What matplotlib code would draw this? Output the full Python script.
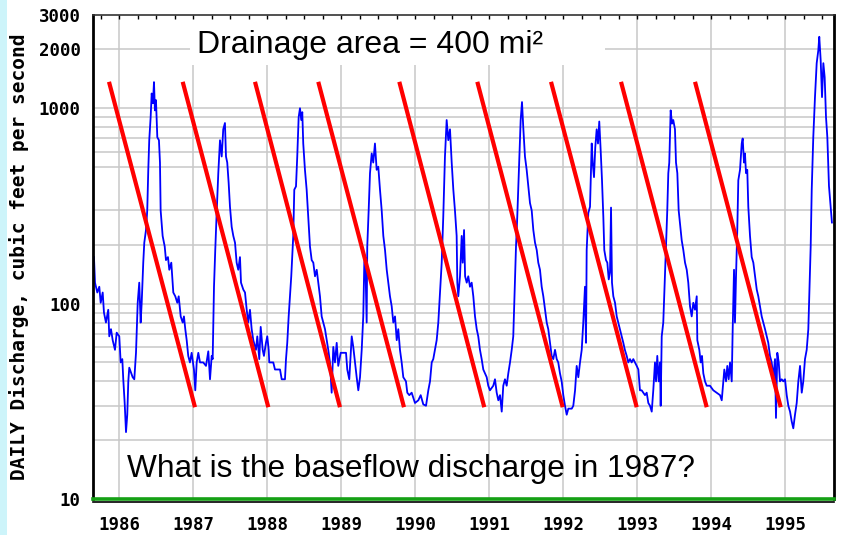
import matplotlib
matplotlib.use("Agg")
import matplotlib.pyplot as plt
from matplotlib.patches import Rectangle
from matplotlib.ticker import FixedLocator, MultipleLocator, NullFormatter
import matplotlib.transforms as mtrans

# ---------------- data ----------------
date_yr = [
    1985.658, 1985.672, 1985.703, 1985.730, 1985.749, 1985.776, 1985.793, 1985.820, 1985.851, 1985.865,
    1985.888, 1985.911, 1985.942, 1985.965, 1986.000, 1986.019, 1986.041, 1986.054, 1986.073, 1986.091,
    1986.108, 1986.122, 1986.135, 1986.162, 1986.181, 1986.203, 1986.226, 1986.249, 1986.270, 1986.289,
    1986.303, 1986.324, 1986.338, 1986.361, 1986.378, 1986.392, 1986.405, 1986.424, 1986.438, 1986.455,
    1986.469, 1986.482, 1986.496, 1986.514, 1986.536, 1986.550, 1986.559, 1986.586, 1986.614, 1986.631,
    1986.658, 1986.676, 1986.703, 1986.730, 1986.757, 1986.784, 1986.803, 1986.830, 1986.857, 1986.874,
    1986.892, 1986.911, 1986.932, 1986.955, 1986.978, 1987.009, 1987.027, 1987.046, 1987.068, 1987.091,
    1987.135, 1987.172, 1987.203, 1987.226, 1987.249, 1987.262, 1987.280, 1987.297, 1987.316, 1987.338,
    1987.361, 1987.384, 1987.405, 1987.428, 1987.442, 1987.459, 1987.478, 1987.496, 1987.519, 1987.541,
    1987.564, 1987.586, 1987.608, 1987.631, 1987.645, 1987.676, 1987.699, 1987.722, 1987.743, 1987.766,
    1987.789, 1987.811, 1987.847, 1987.865, 1987.892, 1987.911, 1987.938, 1987.955, 1987.982, 1988.000,
    1988.019, 1988.027, 1988.081, 1988.104, 1988.172, 1988.195, 1988.239, 1988.253, 1988.270, 1988.289,
    1988.307, 1988.324, 1988.351, 1988.365, 1988.388, 1988.405, 1988.424, 1988.442, 1988.459, 1988.473,
    1988.486, 1988.509, 1988.532, 1988.554, 1988.577, 1988.600, 1988.622, 1988.645, 1988.668, 1988.689,
    1988.712, 1988.735, 1988.757, 1988.780, 1988.803, 1988.824, 1988.847, 1988.870, 1988.892, 1988.915,
    1988.938, 1988.959, 1988.992, 1989.027, 1989.064, 1989.081, 1989.108, 1989.141, 1989.162, 1989.185,
    1989.208, 1989.230, 1989.253, 1989.276, 1989.297, 1989.311, 1989.324, 1989.343, 1989.351, 1989.370,
    1989.388, 1989.411, 1989.432, 1989.455, 1989.478, 1989.500, 1989.523, 1989.546, 1989.568, 1989.591,
    1989.614, 1989.635, 1989.658, 1989.681, 1989.703, 1989.726, 1989.749, 1989.770, 1989.793, 1989.816,
    1989.838, 1989.874, 1989.892, 1989.919, 1989.951, 1989.996, 1990.041, 1990.073, 1990.108, 1990.145,
    1990.176, 1990.199, 1990.222, 1990.243, 1990.266, 1990.289, 1990.311, 1990.334, 1990.357, 1990.378,
    1990.401, 1990.424, 1990.446, 1990.469, 1990.492, 1990.514, 1990.536, 1990.559, 1990.568, 1990.581,
    1990.604, 1990.627, 1990.641, 1990.659, 1990.673, 1990.695, 1990.716, 1990.739, 1990.762, 1990.784,
    1990.807, 1990.830, 1990.851, 1990.874, 1990.897, 1990.919, 1990.942, 1990.965, 1990.986, 1991.009,
    1991.054, 1991.077, 1991.100, 1991.122, 1991.145, 1991.168, 1991.189, 1991.212, 1991.235, 1991.257,
    1991.280, 1991.303, 1991.324, 1991.347, 1991.361, 1991.378, 1991.392, 1991.405, 1991.424, 1991.442,
    1991.459, 1991.482, 1991.505, 1991.527, 1991.550, 1991.573, 1991.595, 1991.618, 1991.641, 1991.662,
    1991.685, 1991.708, 1991.730, 1991.753, 1991.776, 1991.797, 1991.820, 1991.843, 1991.865, 1991.888,
    1991.911, 1991.932, 1991.955, 1991.978, 1992.000, 1992.023, 1992.046, 1992.068, 1992.114, 1992.135,
    1992.159, 1992.181, 1992.203, 1992.226, 1992.249, 1992.270, 1992.293, 1992.307, 1992.316, 1992.338,
    1992.361, 1992.384, 1992.397, 1992.415, 1992.432, 1992.451, 1992.469, 1992.486, 1992.505, 1992.523,
    1992.541, 1992.554, 1992.577, 1992.595, 1992.614, 1992.631, 1992.645, 1992.658, 1992.676, 1992.699,
    1992.722, 1992.743, 1992.766, 1992.789, 1992.811, 1992.832, 1992.857, 1992.878, 1992.901, 1992.924,
    1992.946, 1992.969, 1992.992, 1993.014, 1993.036, 1993.059, 1993.081, 1993.104, 1993.127, 1993.149,
    1993.172, 1993.195, 1993.216, 1993.239, 1993.253, 1993.270, 1993.289, 1993.307, 1993.316, 1993.330,
    1993.351, 1993.370, 1993.389, 1993.405, 1993.419, 1993.432, 1993.451, 1993.469, 1993.486, 1993.509,
    1993.523, 1993.541, 1993.559, 1993.577, 1993.600, 1993.622, 1993.645, 1993.668, 1993.689, 1993.712,
    1993.735, 1993.757, 1993.780, 1993.803, 1993.811, 1993.838, 1993.857, 1993.874, 1993.892, 1993.915,
    1993.938, 1993.982, 1994.027, 1994.073, 1994.118, 1994.141, 1994.162, 1994.176, 1994.199, 1994.216,
    1994.235, 1994.253, 1994.276, 1994.289, 1994.307, 1994.320, 1994.334, 1994.351, 1994.365, 1994.388,
    1994.411, 1994.424, 1994.442, 1994.455, 1994.469, 1994.486, 1994.500, 1994.523, 1994.546, 1994.568,
    1994.591, 1994.614, 1994.635, 1994.658, 1994.681, 1994.703, 1994.726, 1994.749, 1994.770, 1994.793,
    1994.816, 1994.838, 1994.861, 1994.874, 1994.892, 1994.911, 1994.928, 1994.951, 1994.973, 1994.996,
    1995.019, 1995.041, 1995.064, 1995.086, 1995.108, 1995.131, 1995.154, 1995.176, 1995.199, 1995.222,
    1995.243, 1995.266, 1995.289, 1995.311, 1995.324, 1995.343, 1995.357, 1995.378, 1995.401, 1995.424,
    1995.446, 1995.459, 1995.478, 1995.496, 1995.514, 1995.532, 1995.550, 1995.568, 1995.590, 1995.630,
]
flow_cfs = [
    173, 128, 114, 122, 101, 114, 90, 80, 93, 68,
    74, 65, 58, 71, 68, 50, 52, 41, 31, 22,
    27, 40, 47, 44, 42, 41, 56, 101, 128, 80,
    101, 162, 205, 238, 300, 484, 686, 900, 1190, 1060,
    1360, 975, 1100, 710, 686, 527, 300, 222, 196, 167,
    173, 149, 162, 114, 109, 101, 109, 86, 80, 86,
    74, 65, 54, 50, 56, 46, 36, 50, 56, 50,
    50, 48, 57, 41, 54, 52, 122, 188, 291, 465,
    686, 566, 780, 840, 566, 527, 415, 313, 247, 222,
    205, 162, 149, 173, 128, 118, 114, 93, 80, 93,
    74, 65, 58, 68, 52, 76, 58, 54, 63, 68,
    58, 50, 50, 46, 46, 41, 41, 52, 63, 86,
    109, 138, 222, 383, 398, 566, 900, 1000, 870, 955,
    660, 484, 383, 278, 196, 167, 162, 138, 149, 128,
    109, 86, 80, 74, 65, 58, 50, 35, 60, 50,
    63, 48, 56, 56, 56, 46, 41, 68, 60, 50,
    42, 36, 42, 58, 86, 162, 173, 80, 196, 300,
    465, 587, 527, 660, 484, 502, 383, 300, 222, 188,
    149, 128, 109, 97, 80, 86, 65, 74, 58, 50,
    42, 40, 35, 34, 35, 31, 32, 34, 30.5, 30,
    36, 40, 50, 52, 58, 65, 80, 114, 162, 278,
    566, 870, 686, 780, 527, 383, 300, 222, 128, 109,
    138, 222, 162, 238, 138, 128, 138, 122, 128, 109,
    86, 74, 68, 58, 52, 46, 44, 42, 38, 36,
    38, 41, 35, 32, 34, 28, 38, 41, 38, 44,
    50, 58, 68, 133, 196, 278, 398, 566, 870, 1075,
    800, 566, 484, 398, 327, 300, 238, 205, 188, 162,
    149, 122, 109, 93, 80, 74, 63, 54, 52, 58,
    52, 50, 44, 40, 34, 30, 27, 29, 29, 30,
    36, 48, 42, 50, 58, 80, 122, 63, 188, 291,
    313, 660, 527, 444, 630, 780, 660, 855, 610, 428,
    278, 188, 167, 162, 133, 144, 310, 128, 109, 101,
    86, 80, 74, 68, 63, 58, 54, 50, 52, 50,
    52, 50, 48, 46, 36, 36, 35, 34, 35, 31,
    30, 28, 36, 50, 40, 54, 40, 50, 30, 68,
    80, 128, 205, 300, 465, 527, 975, 834, 870, 780,
    527, 465, 300, 258, 211, 188, 162, 149, 128, 97,
    86, 101, 93, 109, 65, 58, 50, 54, 44, 40,
    38, 38, 36, 35, 34, 32, 40, 46, 40, 48,
    41, 50, 40, 74, 149, 80, 138, 238, 428, 484,
    660, 700, 527, 587, 465, 484, 313, 222, 173, 162,
    138, 118, 109, 97, 86, 80, 74, 68, 63, 54,
    50, 42, 52, 26, 56, 50, 40, 41, 40, 41,
    34, 30, 28, 25, 23, 27, 31, 40, 48, 35,
    40, 52, 58, 74, 109, 196, 383, 710, 1140, 1700,
    1980, 2320, 1760, 1140, 1700, 1440, 900, 710, 400, 260,
]

# red recession lines drawn on the chart (start/end of each line)
rec_start_yr = [1985.861, 1986.857, 1987.834, 1988.689, 1989.784, 1990.838, 1991.834, 1992.780, 1993.780]
rec_end_yr = [1987.023, 1988.014, 1988.982, 1989.847, 1990.932, 1991.992, 1992.992, 1993.938, 1994.938]
rec_start_cfs = 1365
rec_end_cfs = 29.5

year_ticks = [1986, 1987, 1988, 1989, 1990, 1991, 1992, 1993, 1994, 1995]
y_ticks = [10, 100, 1000, 2000, 3000]
y_tick_labels = ["10", "100", "1000", "2000", "3000"]
grid_cfs = [20, 30, 40, 50, 60, 70, 80, 90, 100, 200, 300, 500, 600, 700, 800, 900, 1000, 2000]

title_text = "Drainage area = 400 mi\u00b2"
question_text = "What is the baseflow discharge in 1987?"
ylabel_text = "DAILY Discharge, cubic feet per second"

# ---------------- figure ----------------
fig = plt.figure(figsize=(8.6, 5.35), dpi=100)
fig.patch.set_facecolor("white")
fig.patches.append(Rectangle((0, 0), 7 / 860, 1, transform=fig.transFigure,
                             facecolor="#cdf4fa", edgecolor="none", zorder=0))

ax = fig.add_axes([93 / 860, 36 / 535, 741 / 860, 484 / 535])
ax.set_yscale("log")
ax.set_xlim(1985.645, 1995.658)
ax.set_ylim(10, 3000)

grid_kw = dict(color="#c8c8c8", lw=1.1, zorder=0.5)
for g in grid_cfs:
    ax.axhline(g, **grid_kw)
for yr in year_ticks:
    ax.axvline(yr, **grid_kw)

# white box behind the drainage-area note
ax.add_patch(Rectangle((0.1309, 0.8967), 0.691 - 0.1309, 0.11, transform=ax.transAxes,
                       facecolor="white", edgecolor="none", zorder=0.8))

ax.plot(date_yr, flow_cfs, color="#0000ff", lw=1.3, zorder=2)

for s, e in zip(rec_start_yr, rec_end_yr):
    ax.plot([s, e], [rec_start_cfs, rec_end_cfs], color="#ff0000", lw=3.0,
            solid_capstyle="butt", zorder=3)

ax.text(0.140, 0.9215, title_text, transform=ax.transAxes, fontsize=23,
        family="Liberation Sans", va="baseline", ha="left", zorder=4)
ax.text(0.0459, 0.0455, question_text, transform=ax.transAxes, fontsize=22.8,
        family="Liberation Sans", va="baseline", ha="left", zorder=4)

# ticks
tick_font = dict(family="DejaVu Sans Mono", weight="bold", size=12.5)
ax.yaxis.set_major_locator(FixedLocator(y_ticks))
ax.yaxis.set_minor_locator(FixedLocator([]))
ax.set_yticklabels(y_tick_labels, fontdict=tick_font)
ax.yaxis.set_minor_formatter(NullFormatter())
ax.set_xticks(year_ticks)
ax.set_xticklabels([str(y) for y in year_ticks], fontdict=tick_font)
ax.xaxis.set_minor_locator(MultipleLocator(0.25))
ax.tick_params(axis="y", which="both", length=0, pad=9)
ax.tick_params(axis="x", which="major", bottom=False, top=True, direction="in",
               length=3, width=1, pad=12)
ax.tick_params(axis="x", which="minor", bottom=False, top=True, direction="in",
               length=3, width=1)

ax.set_ylabel(ylabel_text, family="DejaVu Sans Mono", weight="bold", fontsize=14,
              labelpad=7)

for side in ["left", "right"]:
    ax.spines[side].set_color("black")
    ax.spines[side].set_linewidth(2.0)
ax.spines["top"].set_color("#333333")
ax.spines["top"].set_linewidth(1.2)
ax.spines["bottom"].set_color("#14a014")
ax.spines["bottom"].set_linewidth(2.6)
ax.spines["bottom"].set_zorder(5)
under = mtrans.offset_copy(ax.transAxes, fig=fig, y=-1.8, units="points")
ax.plot([0, 1], [0, 0], transform=under, color="black", lw=1.2, clip_on=False, zorder=5)

fig.savefig("out.png", dpi=100, facecolor=fig.get_facecolor())
